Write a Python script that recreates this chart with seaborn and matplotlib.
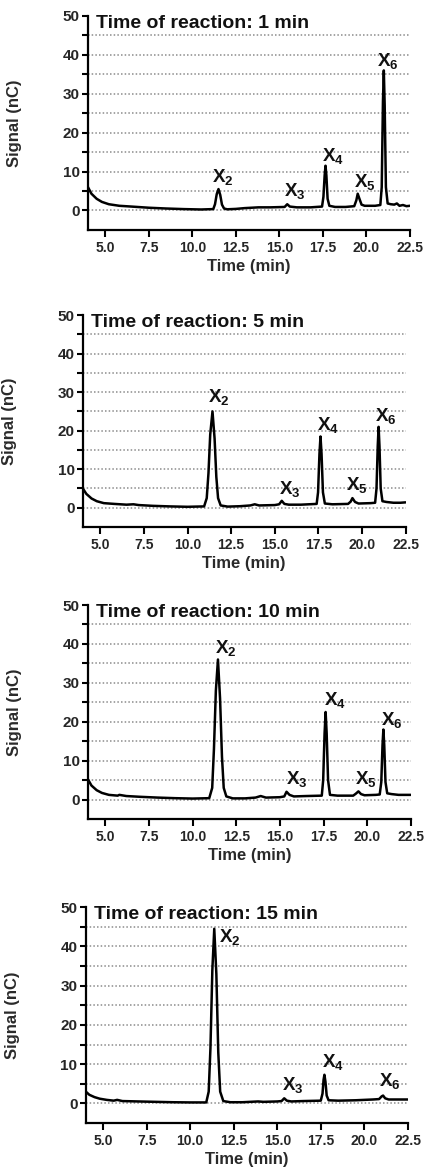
import numpy as np
import matplotlib
matplotlib.use('Agg')
import matplotlib.pyplot as plt
import seaborn as sns

sns.set_style('ticks')
plt.rcParams['font.family'] = ['Liberation Sans', 'DejaVu Sans']
plt.rcParams['mathtext.fontset'] = 'custom'
plt.rcParams['mathtext.rm'] = 'Liberation Sans:bold'
plt.rcParams['mathtext.default'] = 'rm'

# reaction times (min) shown in the panel titles
reaction_times = [1, 5, 10, 15]

# chromatogram traces: time (min) / signal (nC)
t1 = [4.0, 4.2, 4.5, 4.8, 5.2, 5.8, 6.5, 7.5, 8.5, 9.5, 10.5, 11.2, 11.3, 11.4, 11.5, 11.6, 11.7, 11.82,
      12.0, 12.5, 13.0, 13.8, 14.5, 15.3, 15.45, 15.6, 16.0, 16.8, 17.45, 17.53, 17.6, 17.65, 17.7, 17.77,
      17.87, 18.2, 18.8, 19.3, 19.42, 19.5, 19.6, 19.72, 19.9, 20.5, 20.8, 20.88, 20.95, 21.0, 21.05, 21.12,
      21.22, 21.4, 21.6, 21.75, 21.9, 22.1, 22.3, 22.5]
s1 = [6.0, 4.3, 3.0, 2.2, 1.6, 1.2, 1.0, 0.7, 0.5, 0.35, 0.25, 0.35, 1.6, 4.2, 5.5, 4.0, 1.5, 0.5,
      0.3, 0.4, 0.6, 0.8, 0.8, 0.9, 1.6, 1.0, 0.8, 0.8, 1.0, 3.5, 9.0, 11.5, 9.0, 3.0,
      1.2, 0.9, 0.9, 1.1, 2.6, 4.3, 3.0, 1.5, 1.2, 1.2, 1.4, 6.0, 28.0, 36.0, 27.0, 6.0,
      1.8, 1.6, 1.5, 1.8, 1.2, 1.4, 1.1, 1.2]

t2 = [4.0, 4.2, 4.5, 4.8, 5.2, 5.8, 6.5, 6.9, 7.2, 8.0, 9.0, 10.0, 10.95, 11.1, 11.2, 11.3, 11.43,
      11.55, 11.65, 11.75, 11.9, 12.3, 13.0, 13.6, 13.85, 14.1, 15.0, 15.25, 15.4, 15.55, 15.8, 16.5,
      17.4, 17.48, 17.56, 17.62, 17.68, 17.76, 17.87, 18.3, 19.2, 19.35, 19.45, 19.6, 19.8, 20.5, 20.75,
      20.83, 20.9, 20.95, 21.0, 21.07, 21.17, 21.4, 21.8, 22.2, 22.5]
s2 = [5.0, 3.6, 2.4, 1.7, 1.2, 1.0, 0.8, 0.9, 0.7, 0.5, 0.35, 0.25, 0.35, 2.5, 9.0, 19.0, 25.0,
      18.0, 8.0, 2.5, 0.6, 0.3, 0.4, 0.6, 0.9, 0.6, 0.7, 0.9, 1.8, 1.0, 0.8, 0.8,
      1.0, 4.0, 14.0, 18.5, 14.0, 4.0, 1.1, 0.9, 1.0, 1.6, 2.5, 1.5, 1.1, 1.2, 1.3,
      5.0, 16.0, 21.0, 16.0, 5.0, 1.7, 1.5, 1.3, 1.3, 1.4]

t3 = [4.0, 4.2, 4.5, 4.8, 5.2, 5.7, 5.8, 6.2, 7.0, 8.0, 9.0, 10.0, 10.95, 11.12, 11.22, 11.33, 11.45,
      11.57, 11.68, 11.78, 11.93, 12.3, 13.0, 13.6, 13.9, 14.2, 15.0, 15.25, 15.38, 15.55, 15.8, 16.5,
      17.4, 17.48, 17.56, 17.62, 17.68, 17.76, 17.87, 18.3, 19.2, 19.35, 19.5, 19.65, 19.85, 20.5, 20.72,
      20.81, 20.88, 20.93, 20.98, 21.05, 21.15, 21.4, 21.8, 22.2, 22.5]
s3 = [5.2, 3.6, 2.4, 1.7, 1.2, 1.0, 1.2, 0.9, 0.7, 0.5, 0.35, 0.25, 0.35, 3.0, 13.0, 28.0, 36.0,
      26.0, 11.0, 3.0, 0.8, 0.3, 0.3, 0.5, 0.9, 0.5, 0.6, 0.8, 2.0, 1.2, 0.8, 0.9,
      1.0, 5.0, 17.0, 22.5, 17.0, 5.0, 1.2, 1.0, 1.0, 1.5, 2.1, 1.4, 1.1, 1.2, 1.3,
      4.5, 14.0, 18.0, 14.0, 4.5, 1.6, 1.4, 1.2, 1.2, 1.2]

t4 = [4.0, 4.2, 4.5, 4.8, 5.2, 5.6, 5.8, 6.1, 7.0, 8.0, 9.0, 10.0, 10.92, 11.06, 11.16, 11.27, 11.38,
      11.5, 11.61, 11.72, 11.9, 12.3, 13.0, 13.9, 14.2, 15.0, 15.25, 15.4, 15.55, 15.8, 16.5, 17.5,
      17.6, 17.66, 17.71, 17.77, 17.84, 17.95, 18.5, 19.5, 20.5, 20.85, 21.0, 21.08, 21.2, 21.4, 22.0, 22.5]
s4 = [3.0, 2.2, 1.6, 1.2, 0.9, 0.7, 0.9, 0.6, 0.5, 0.4, 0.3, 0.25, 0.25, 3.0, 14.0, 34.0, 44.5,
      33.0, 13.0, 3.0, 0.6, 0.3, 0.3, 0.5, 0.4, 0.5, 0.6, 1.3, 0.7, 0.5, 0.6, 0.7,
      2.5, 6.0, 7.3, 5.5, 2.0, 0.8, 0.7, 0.8, 1.0, 1.1, 1.8, 2.0, 1.3, 1.0, 1.0, 1.0]

# peak labels (X_n) and where they sit in each panel
lab1_n = ['2', '3', '4', '5', '6']
lab1_x = [11.75, 15.9, 18.05, 19.9, 21.25]
lab1_y = [8.5, 4.9, 14.1, 7.3, 38.3]

lab2_n = ['2', '3', '4', '5', '6']
lab2_x = [11.8, 15.85, 18.05, 19.7, 21.35]
lab2_y = [28.7, 4.9, 21.5, 6.0, 23.8]

lab3_n = ['2', '3', '4', '5', '6']
lab3_x = [11.9, 15.95, 18.15, 19.95, 21.4]
lab3_y = [38.9, 5.4, 25.5, 5.4, 20.5]

lab4_n = ['2', '3', '4', '6']
lab4_x = [12.25, 15.9, 18.2, 21.45]
lab4_y = [42.4, 4.6, 10.5, 5.7]

x_ticks = [5.0, 7.5, 10.0, 12.5, 15.0, 17.5, 20.0, 22.5]
y_major = [0, 10, 20, 30, 40, 50]
y_minor = [5, 15, 25, 35, 45]
grid_levels = [0, 5, 10, 15, 20, 25, 30, 35, 40, 45]

traces = [(t1, s1), (t2, s2), (t3, s3), (t4, s4)]
labels = [(lab1_n, lab1_x, lab1_y), (lab2_n, lab2_x, lab2_y),
          (lab3_n, lab3_x, lab3_y), (lab4_n, lab4_x, lab4_y)]
boxes = [[0.206, 0.804, 0.754, 0.1824],
         [0.194, 0.5507, 0.756, 0.1807],
         [0.206, 0.3018, 0.756, 0.1824],
         [0.201, 0.0426, 0.754, 0.184]]

fig = plt.figure(figsize=(4.27, 11.73), dpi=100)

for i in range(4):
    ax = fig.add_axes(boxes[i])
    t, s = traces[i]
    for g in grid_levels:
        ax.axhline(g, color='#8c8c8c', lw=1.1, ls=(0, (1, 1.4)), zorder=0)
    sns.lineplot(x=t, y=s, ax=ax, color='black', lw=1.8, sort=False, estimator=None)

    names, lx, ly = labels[i]
    for n, x, y in zip(names, lx, ly):
        ax.text(x, y, 'X$_{%s}$' % n, ha='center', va='center', fontsize=13.5,
                fontweight='bold', color='#111111')

    ax.text(4.45, 47, 'Time of reaction: %d min' % reaction_times[i], fontsize=14,
            fontweight='bold', ha='left', va='baseline', color='#111111')

    ax.set_xlim(4, 22.5)
    ax.set_ylim(-5, 50)
    ax.set_xticks(x_ticks)
    ax.set_xticklabels(['%.1f' % v for v in x_ticks], fontsize=10, fontweight='bold')
    ax.set_yticks(y_major)
    ax.set_yticklabels([str(v) for v in y_major], fontsize=11, fontweight='bold')
    ax.set_yticks(y_minor, minor=True)
    ax.tick_params(axis='x', length=5, width=1.5, pad=3, color='black')
    ax.tick_params(axis='y', which='both', length=4, width=1.5, pad=2, color='black')

    sns.despine(ax=ax)
    for side in ['left', 'bottom']:
        ax.spines[side].set_linewidth(1.6)
        ax.spines[side].set_color('black')

    ax.set_xlabel('Time (min)', fontsize=12, fontweight='bold', labelpad=3, color='#2a2a2a')
    ax.set_ylabel('Signal (nC)', fontsize=12, fontweight='bold', color='#2a2a2a')
    ax.yaxis.set_label_coords(-0.205, 0.5)

fig.savefig('out.png', dpi=100)
